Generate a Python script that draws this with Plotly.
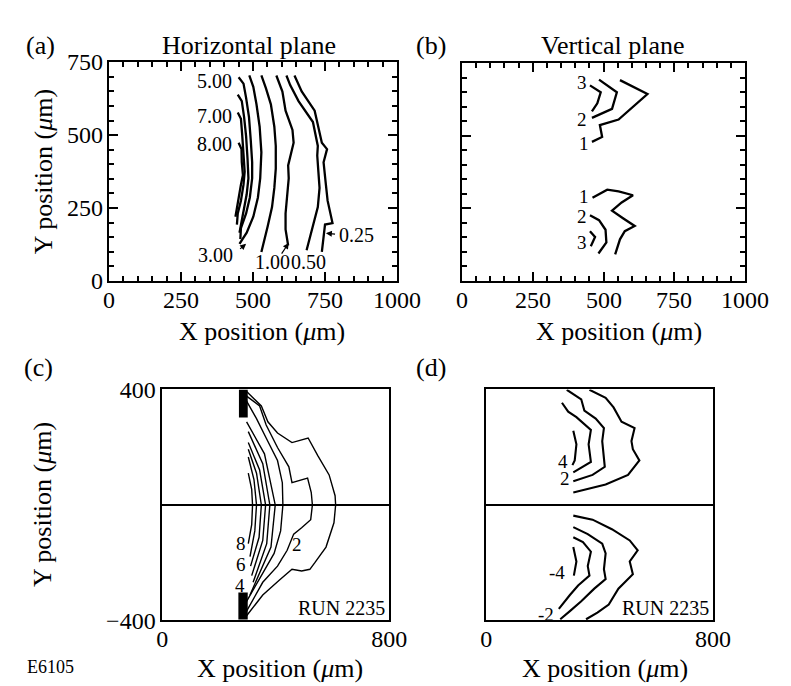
import plotly.graph_objects as go

W, H = 791, 686
SERIF = "Liberation Serif, Times New Roman, serif"

# ---------------- Panel (a): Horizontal plane contours ----------------
a_8_x = [450, 460, 461, 465, 458, 450, 439]
a_8_y = [474, 452, 407, 363, 330, 286, 220]
a_7_x = [447, 458, 462, 467, 471, 467, 458, 447, 444]
a_7_y = [578, 556, 507, 441, 374, 330, 275, 231, 193]
a_6_x = [447, 461, 469, 476, 481, 484, 478, 467, 456, 453]
a_6_y = [639, 617, 562, 496, 418, 352, 297, 242, 193, 165]
a_5_x = [450, 467, 476, 486, 492, 497, 497, 489, 476, 458, 456]
a_5_y = [699, 677, 628, 562, 485, 407, 352, 286, 231, 181, 143]
a_3_x = [487, 501, 512, 523, 529, 525, 517, 501, 478, 453]
a_3_y = [705, 666, 606, 529, 441, 352, 286, 220, 165, 127]
a_2_x = [529, 545, 562, 574, 579, 579, 574, 566, 551, 529]
a_2_y = [705, 661, 606, 529, 463, 385, 319, 253, 187, 99]
a_1_x = [581, 602, 613, 637, 641, 629, 622, 624, 618, 613, 613, 622]
a_1_y = [705, 650, 584, 518, 474, 430, 396, 352, 286, 231, 176, 121]
a_05_x = [616, 629, 658, 689, 708, 725, 723, 727, 731, 725, 708, 686]
a_05_y = [705, 672, 617, 573, 545, 463, 430, 374, 319, 253, 187, 105]
a_025_x = [644, 669, 714, 725, 739, 757, 745, 753, 759, 776, 750, 739]
a_025_y = [705, 650, 584, 540, 474, 452, 407, 330, 275, 198, 193, 99]
a_lines = [(a_8_x, a_8_y), (a_7_x, a_7_y), (a_6_x, a_6_y), (a_5_x, a_5_y),
           (a_3_x, a_3_y), (a_2_x, a_2_y), (a_1_x, a_1_y), (a_05_x, a_05_y),
           (a_025_x, a_025_y)]
a_label_text = ["5.00", "7.00", "8.00", "3.00", "1.00", "0.50", "0.25"]
a_label_x = [433, 433, 433, 439, 568, 694, 790]
a_label_y = [685, 567, 468, 88, 66, 66, 156]
a_label_anchor = ["right", "right", "right", "right", "center", "center", "left"]
a_arrow_head_x = [476, 624, 753]
a_arrow_head_y = [127, 130, 163]
a_arrow_tail_x = [450, 596, 790]
a_arrow_tail_y = [105, 88, 160]

# ---------------- Panel (b): Vertical plane contours ----------------
b_t3_x = [452, 490, 478, 459]
b_t3_y = [674, 650, 612, 584]
b_t2_x = [484, 547, 530, 459]
b_t2_y = [694, 650, 593, 562]
b_t1_x = [558, 655, 553, 487, 495, 459]
b_t1_y = [692, 644, 556, 537, 496, 479]
b_b1_x = [461, 513, 553, 604, 564, 530, 570, 610, 575, 558, 541]
b_b1_y = [286, 314, 308, 295, 270, 242, 215, 189, 171, 143, 91]
b_b2_x = [452, 484, 507, 510, 482]
b_b2_y = [226, 209, 176, 132, 94]
b_b3_x = [452, 470, 455]
b_b3_y = [171, 151, 119]
b_lines = [(b_t3_x, b_t3_y), (b_t2_x, b_t2_y), (b_t1_x, b_t1_y),
           (b_b1_x, b_b1_y), (b_b2_x, b_b2_y), (b_b3_x, b_b3_y)]
b_label_text = ["3", "2", "1", "1", "2", "3"]
b_label_x = [425, 425, 431, 431, 425, 425]
b_label_y = [683, 556, 474, 290, 222, 132]

# ---------------- Panel (c): measured contours, RUN 2235 ----------------
c_1_x = [303, 315, 318, 315, 303]
c_1_y = [110, 54, 0, -68, -134]
c_2_x = [303, 323, 332, 326, 309]
c_2_y = [166, 88, 0, -90, -179]
c_3_x = [303, 332, 349, 341, 311]
c_3_y = [193, 110, 0, -112, -212]
c_4_x = [303, 343, 364, 354, 315]
c_4_y = [216, 121, 0, -123, -245]
c_5_x = [303, 354, 379, 368, 320]
c_5_y = [254, 143, 0, -134, -268]
c_6_x = [297, 360, 398, 383, 309]
c_6_y = [288, 177, 0, -146, -312]
c_7_x = [297, 332, 366, 406, 423, 425, 417, 394, 349, 297]
c_7_y = [360, 299, 232, 154, 77, 0, -90, -168, -245, -334]
c_8_x = [297, 343, 366, 406, 446, 457, 512, 525, 529, 523, 491, 463, 440, 406, 354, 297]
c_8_y = [377, 343, 277, 199, 132, 77, 93, 43, 0, -51, -79, -101, -157, -212, -268, -368]
c_9_x = [297, 349, 372, 406, 457, 514, 548, 588, 609, 611, 605, 577, 537, 520, 491, 457, 411, 354, 297]
c_9_y = [393, 343, 288, 249, 216, 232, 171, 104, 32, 0, -62, -146, -201, -223, -229, -223, -262, -312, -384]
c_lines = [(c_1_x, c_1_y), (c_2_x, c_2_y), (c_3_x, c_3_y), (c_4_x, c_4_y),
           (c_5_x, c_5_y), (c_6_x, c_6_y), (c_7_x, c_7_y), (c_8_x, c_8_y),
           (c_9_x, c_9_y)]
c_label_text = ["8", "6", "4", "2"]
c_label_x = [277, 277, 275, 474]
c_label_y = [-134, -207, -279, -137]
c_block_x0 = [270, 268]
c_block_x1 = [301, 301]
c_block_y0 = [303, -397]
c_block_y1 = [400, -303]

# ---------------- Panel (d) ----------------
d_t1_x = [364, 421, 449, 477, 523, 512, 517, 540, 500, 421, 307]
d_t1_y = [399, 371, 338, 288, 266, 221, 193, 154, 104, 71, 43]
d_t2_x = [284, 335, 346, 386, 415, 409, 418, 375, 307]
d_t2_y = [399, 366, 327, 299, 266, 221, 132, 104, 82]
d_t3_x = [267, 289, 318, 369, 361, 369, 307]
d_t3_y = [354, 323, 304, 260, 210, 149, 113]
d_t4_x = [307, 318, 312, 304]
d_t4_y = [257, 210, 154, 138]
d_b1_x = [307, 375, 443, 506, 534, 506, 517, 466, 432, 392, 352]
d_b1_y = [-37, -51, -84, -123, -157, -196, -240, -290, -345, -373, -396]
d_b2_x = [307, 358, 409, 421, 415, 421, 381, 335, 295, 261]
d_b2_y = [-77, -101, -134, -168, -223, -257, -290, -334, -368, -396]
d_b3_x = [307, 341, 369, 358, 364, 324, 295, 256]
d_b3_y = [-112, -129, -162, -212, -245, -279, -312, -360]
d_b4_x = [307, 318, 309]
d_b4_y = [-146, -196, -245]
d_lines = [(d_t1_x, d_t1_y), (d_t2_x, d_t2_y), (d_t3_x, d_t3_y), (d_t4_x, d_t4_y),
           (d_b1_x, d_b1_y), (d_b2_x, d_b2_y), (d_b3_x, d_b3_y), (d_b4_x, d_b4_y)]
d_label_text = ["4", "2", "-4", "-2"]
d_label_x = [272, 276, 248, 212]
d_label_y = [149, 93, -234, -379]

# tick labels
ab_xticks = [0, 250, 500, 750, 1000]
a_yticks = [0, 250, 500, 750]
cd_xticks = [0, 800]
c_yticks = [-400, 400]

fig = go.Figure()

def add_lines(lines, xa, ya, width):
    for xs, ys in lines:
        fig.add_trace(go.Scatter(x=xs, y=ys, mode="lines", xaxis=xa, yaxis=ya,
                                 line=dict(color="black", width=width),
                                 showlegend=False, hoverinfo="skip"))

add_lines(a_lines, "x", "y", 2.3)
add_lines(b_lines, "x2", "y2", 2.3)
add_lines(c_lines, "x3", "y3", 1.4)
add_lines(d_lines, "x4", "y4", 2.1)

def px(v):
    return v / W

def py(v):
    return 1 - v / H

font_tick = dict(family=SERIF, size=24, color="black")
font_lab = dict(family=SERIF, size=20, color="black")
font_small = dict(family=SERIF, size=19, color="black")

# (a),(b): box with inside major + minor ticks on all four sides
tick_axis = dict(showgrid=False, zeroline=False, showline=True, linecolor="black",
                 linewidth=1.8, mirror="ticks", showticklabels=False,
                 ticks="inside", ticklen=9, tickwidth=2, tickcolor="black",
                 tickmode="linear", tick0=0, dtick=250,
                 minor=dict(ticks="inside", ticklen=5, tickwidth=1.6, tickcolor="black",
                            tickmode="linear", tick0=0, dtick=50, showgrid=False))
cd_axis = dict(showgrid=False, zeroline=False, showline=True, linecolor="black",
               linewidth=1.8, ticks="", mirror=True, tickfont=font_tick, tickmode="array")

fig.update_layout(
    width=W, height=H, margin=dict(l=0, r=0, t=0, b=0),
    paper_bgcolor="white", plot_bgcolor="white", showlegend=False,
    xaxis=dict(domain=[px(98), px(395)], range=[0, 1000], anchor="y", **tick_axis),
    yaxis=dict(domain=[py(270), py(43)], range=[0, 750], anchor="x", **tick_axis),
    xaxis2=dict(domain=[px(462), px(754)], range=[0, 1000], anchor="y2", **tick_axis),
    yaxis2=dict(domain=[py(270), py(44)], range=[0, 750], anchor="x2", **tick_axis),
    xaxis3=dict(domain=[px(153), px(387)], range=[0, 800], tickvals=cd_xticks, anchor="y3",
                ticklabelstandoff=-4, **cd_axis),
    yaxis3=dict(domain=[py(623), py(383)], range=[-400, 400], tickvals=c_yticks, anchor="x3",
                **cd_axis),
    xaxis4=dict(domain=[px(487), px(721)], range=[0, 800], tickvals=cd_xticks, anchor="y4",
                ticklabelstandoff=-4, **cd_axis),
    yaxis4=dict(domain=[py(623), py(383)], range=[-400, 400], tickvals=c_yticks, anchor="x4",
                showticklabels=False, **cd_axis),
)
fig.layout.yaxis3.update(zeroline=True, zerolinecolor="black", zerolinewidth=1.5)
fig.layout.yaxis4.update(zeroline=True, zerolinecolor="black", zerolinewidth=1.5)

ann = []
# tick labels of panels (a) and (b), placed at the tick values
for xr in ["x", "x2"]:
    for v in ab_xticks:
        ann.append(dict(x=v, y=py(290), xref=xr, yref="paper", text=str(v), showarrow=False,
                        xanchor="center", yanchor="middle", font=font_tick))
for v in a_yticks:
    ann.append(dict(x=px(94), y=v, xref="paper", yref="y", text=str(v), showarrow=False,
                    xanchor="right", yanchor="middle", font=font_tick))

for t, x, y, a in zip(a_label_text, a_label_x, a_label_y, a_label_anchor):
    ann.append(dict(x=x, y=y, xref="x", yref="y", text=t, showarrow=False,
                    xanchor=a, yanchor="middle", font=font_lab))
for hx, hy, tx, ty in zip(a_arrow_head_x, a_arrow_head_y, a_arrow_tail_x, a_arrow_tail_y):
    ann.append(dict(x=hx, y=hy, ax=tx, ay=ty, xref="x", yref="y", axref="x", ayref="y",
                    text="", showarrow=True, arrowhead=2, arrowsize=1, arrowwidth=1.2,
                    arrowcolor="black", standoff=0, startstandoff=0))
for t, x, y in zip(b_label_text, b_label_x, b_label_y):
    ann.append(dict(x=x, y=y, xref="x2", yref="y2", text=t, showarrow=False,
                    xanchor="center", yanchor="middle", font=font_small))
for t, x, y in zip(c_label_text, c_label_x, c_label_y):
    ann.append(dict(x=x, y=y, xref="x3", yref="y3", text=t, showarrow=False,
                    xanchor="center", yanchor="middle", font=font_small))
for t, x, y in zip(d_label_text, d_label_x, d_label_y):
    ann.append(dict(x=x, y=y, xref="x4", yref="y4", text=t, showarrow=False,
                    xanchor="center", yanchor="middle", font=font_small))
ann.append(dict(x=792, y=-357, xref="x3", yref="y3", text="RUN 2235", showarrow=False,
                xanchor="right", yanchor="middle", font=font_lab))
ann.append(dict(x=792, y=-357, xref="x4", yref="y4", text="RUN 2235", showarrow=False,
                xanchor="right", yanchor="middle", font=font_lab))

font_title = dict(family=SERIF, size=26, color="black")
texts = [
    ("(a)", 27, 25), ("Horizontal plane", 242, 25),
    ("(b)", 430, 25), ("Vertical plane", 618, 25),
    ("X position (<i>μ</i>m)", 256, 323), ("X position (<i>μ</i>m)", 624, 323),
    ("(c)", 25, 360), ("(d)", 430, 360),
    ("X position (<i>μ</i>m)", 274, 673), ("X position (<i>μ</i>m)", 610, 673),
]
for t, x, y in texts:
    ann.append(dict(x=px(x), y=py(y), xref="paper", yref="paper", text=t, showarrow=False,
                    xanchor="center", yanchor="middle", font=font_title))
ann.append(dict(x=px(38), y=py(671), xref="paper", yref="paper", text="E6105", showarrow=False,
                xanchor="center", yanchor="middle", font=dict(family=SERIF, size=18, color="black")))
for yc in [157, 503]:
    ann.append(dict(x=px(30), y=py(yc), xref="paper", yref="paper", text="Y position (<i>μ</i>m)",
                    showarrow=False, textangle=-90, xanchor="center", yanchor="middle",
                    font=font_title))

shapes = []
for x0, x1, y0, y1 in zip(c_block_x0, c_block_x1, c_block_y0, c_block_y1):
    shapes.append(dict(type="rect", xref="x3", yref="y3", x0=x0, x1=x1, y0=y0, y1=y1,
                       fillcolor="black", line=dict(color="black", width=0)))

fig.update_layout(annotations=ann, shapes=shapes)
fig.write_html("out.html")
